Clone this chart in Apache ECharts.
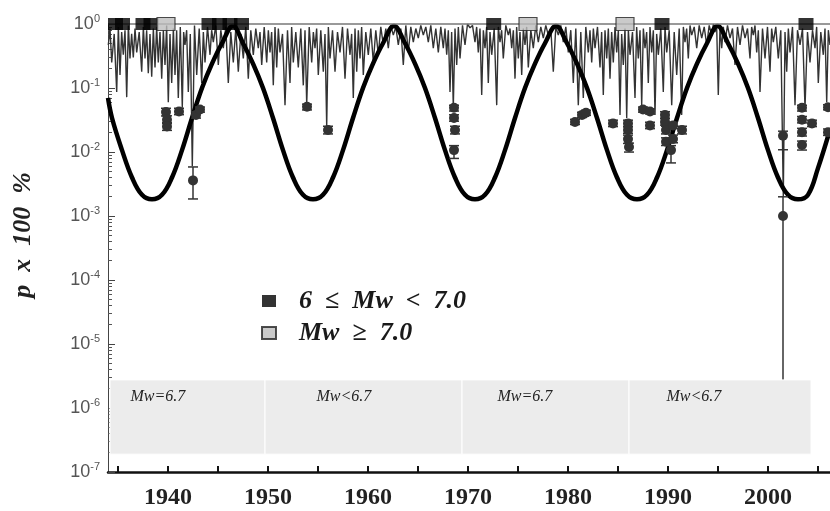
<!DOCTYPE html>
<html>
<head>
<meta charset="utf-8">
<script src="https://cdn.jsdelivr.net/npm/echarts@6/dist/echarts.min.js"></script>
<style>
  html, body { margin: 0; padding: 0; background: #fff; }
  #chart { width: 830px; height: 511px; }
</style>
</head>
<body>
<div id="chart"></div>
<script>
// thin noisy probability line: dip years / dip values, and the tops between dips
const noiseYears = [
  1934.03, 1934.37, 1934.87, 1935.2, 1935.53, 1935.87, 1936.2, 1936.53, 1936.87, 1937.37,
  1937.7, 1938.03, 1938.37, 1938.7, 1939.03, 1939.37, 1939.7, 1940.03, 1940.37, 1940.7,
  1941.03, 1941.43, 1941.7, 1942.03, 1942.43, 1942.87, 1943.37, 1943.7, 1944.2, 1944.53,
  1945.03, 1945.53, 1946.03, 1946.53, 1947.03, 1947.53, 1948.03, 1948.53, 1949.03, 1949.37,
  1949.87, 1950.2, 1950.53, 1950.87, 1951.2, 1951.7, 1952.2, 1952.53, 1953.03, 1953.53,
  1953.87, 1954.37, 1954.7, 1955.03, 1955.53, 1955.87, 1956.2, 1956.7, 1957.2, 1957.7,
  1958.2, 1958.53, 1958.87, 1959.2, 1959.53, 1960.03, 1960.53, 1961.03, 1961.53, 1962.03,
  1962.53, 1963.03, 1963.53, 1964.03, 1964.53, 1965.03, 1965.53, 1966.03, 1966.53, 1967.03,
  1967.53, 1967.87, 1968.2, 1968.53, 1968.87, 1969.2, 1969.7, 1970.2, 1970.7, 1971.03,
  1971.37, 1971.7, 1972.03, 1972.37, 1972.87, 1973.2, 1973.53, 1974.03, 1974.37, 1974.7,
  1975.03, 1975.37, 1975.7, 1976.03, 1976.53, 1977.03, 1977.53, 1978.03, 1978.53, 1979.03,
  1979.53, 1980.03, 1980.53, 1981.03, 1981.53, 1982.03, 1982.37, 1982.7, 1983.2, 1983.53,
  1983.87, 1984.2, 1984.53, 1984.87, 1985.2, 1985.53, 1985.87, 1986.2, 1986.7, 1987.03,
  1987.37, 1987.7, 1988.03, 1988.37, 1988.7, 1989.03, 1989.53, 1989.87, 1990.37, 1990.87,
  1991.37, 1991.7, 1992.03, 1992.37, 1992.87, 1993.37, 1993.87, 1994.37, 1994.7, 1995.03,
  1995.37, 1995.7, 1996.2, 1996.7, 1997.2, 1997.7, 1998.2, 1998.53, 1998.87, 1999.2,
  1999.7, 2000.2, 2000.53, 2001.03, 2001.53, 2001.87, 2002.2, 2002.7, 2003.2, 2003.7,
  2004.2, 2004.7, 2005.03, 2005.53, 2005.87, 2006.2
];
const noiseDips = [
  .47, .25, .087, .16, .33, .072, .29, .30, .36, .18,
  .29, .17, .15, .21, .25, .14, .23, .06, .12, .16,
  .07, .049, .47, .087, .006, .16, .12, .25, .33, .52,
  .23, .42, .12, .25, .18, .29, .14, .33, .42, .23,
  .25, .36, .11, .21, .36, .054, .12, .25, .21, .11,
  .056, .25, .42, .16, .18, .025, .29, .18, .36, .14,
  .33, .07, .18, .29, .16, .33, .25, .33, .47, .42,
  .67, .47, .23, .36, .52, .60, .67, .52, .42, .36,
  .42, .33, .087, .05, .23, .29, .47, .87, .52, .36,
  .078, .42, .12, .33, .054, .52, .29, .67, .42, .14,
  .29, .16, .47, .21, .42, .52, .60, .67, .18, .67,
  .52, .36, .12, .054, .07, .36, .25, .42, .21, .078,
  .29, .14, .25, .36, .038, .23, .034, .33, .07, .29,
  .054, .42, .12, .36, .038, .33, .087, .36, .054, .16,
  .038, .52, .29, .67, .42, .60, .47, .67, .75, .078,
  .42, .52, .60, .23, .47, .60, .29, .67, .36, .087,
  .29, .18, .52, .29, .002, .18, .36, .054, .47, .049,
  .25, .42, .12, .33, .06, .47
];
const noiseTops = [
  .85, .7, .9, .75, .8, .95, .7, .85, .75, .9,
  .8, .7, .85, .9, .75, .8, .95, .7, .85, .8,
  .9, .75, .8, .7, .95, .85, .75, .9, .8, .95,
  .8, .9, .75, .85, .7, .9, .8, .85, .75, .9,
  .8, .75, .9, .85, .7, .8, .9, .75, .85, .8,
  .9, .75, .85, .8, .7, .9, .8, .75, .9, .85,
  .7, .85, .8, .9, .75, .85, .8, .9, .85, .95,
  .9, .85, .95, .9, .85, .95, .9, .95, .85, .9,
  .85, .8, .75, .85, .9, .95, 1.0, .95, .9, .85,
  .8, .9, .75, .85, .9, .8, .95, .85, .8, .9,
  .75, .85, .9, .8, .95, .9, .95, .85, .9, .95,
  .9, .8, .85, .75, .9, .8, .85, .9, .75, .8,
  .85, .75, .9, .8, .7, .85, .8, .75, .9, .8,
  .85, .75, .9, .8, .7, .85, .9, .8, .75, .85,
  .9, .85, .95, .9, .95, .9, .95, 1.0, .95, .9,
  .9, .95, .85, .9, .95, .85, .9, .95, .8, .85,
  .9, .85, .9, .8, .75, .85, .9, .8, .85, .75,
  .8, .9, .75, .85, .8
];

// thick periodic curve
const curveYears = [
  1934.0, 1934.4, 1935.4, 1936.4, 1937.4, 1938.4, 1939.4, 1940.4, 1941.4, 1942.4,
  1943.4, 1944.4, 1945.4, 1946.5, 1947.5, 1948.5, 1949.5, 1950.5, 1951.5, 1952.5,
  1953.5, 1954.5, 1955.5, 1956.5, 1957.5, 1958.5, 1959.5, 1960.5, 1961.5, 1962.6,
  1963.7, 1964.7, 1965.7, 1966.7, 1967.7, 1968.7, 1969.7, 1970.7, 1971.7, 1972.7,
  1973.7, 1974.7, 1975.7, 1976.7, 1977.7, 1978.8, 1979.9, 1980.9, 1981.9, 1982.9,
  1983.9, 1984.9, 1985.9, 1986.9, 1987.9, 1988.9, 1989.9, 1990.9, 1991.9, 1992.9,
  1993.9, 1994.95, 1996.0, 1997.0, 1998.0, 1999.0, 2000.0, 2001.0, 2002.0, 2003.0,
  2004.0, 2005.0, 2006.2
];
const curveP = [
  .07, .034, .0107, .0040, .00214, .00182, .00214, .0040, .0107, .034,
  .1, .24, .50, .93, .50, .24, .1, .034, .0107, .0040,
  .00214, .00182, .00214, .0040, .0107, .034, .1, .24, .50, .93,
  .50, .24, .1, .034, .0107, .0040, .00214, .00182, .00214, .0040,
  .0107, .034, .1, .24, .50, .93, .50, .24, .1, .034,
  .0107, .0040, .00214, .00182, .00214, .0040, .0107, .034, .1, .24,
  .50, .93, .50, .24, .1, .034, .0107, .0040, .00214, .00182,
  .00214, .0056, .0224
];

// points with error bars (errors in decades, up / down)
const pointYears = [
  1939.8, 1939.9, 1939.9, 1941.1, 1942.5, 1942.8, 1943.2, 1953.9, 1956.0, 1968.6,
  1968.6, 1968.7, 1968.6, 1980.7, 1981.4, 1981.8, 1984.5, 1986.0, 1986.0, 1986.0,
  1986.1, 1987.5, 1988.2, 1988.2, 1989.7, 1989.7, 1989.8, 1989.8, 1990.3, 1990.5,
  1990.5, 1991.4, 2001.5, 2001.5, 2003.4, 2003.4, 2003.4, 2003.4, 2004.4, 2006.0,
  2006.0
];
const pointP = [
  .042, .032, .025, .043, .0036, .038, .046, .051, .022, .049,
  .034, .022, .0107, .0295, .038, .041, .028, .028, .022, .016,
  .012, .046, .043, .026, .038, .0295, .022, .0145, .0107, .026,
  .016, .022, .018, .001, .049, .032, .0204, .0129, .028, .050,
  .0204
];
const pointErrUp = [
  .06, .06, .06, .05, .21, .05, .04, .04, .06, .04,
  .05, .06, .07, .04, .04, .04, .05, .05, .05, .06,
  .06, .04, .04, .05, .05, .05, .06, .06, .07, .05,
  .06, .06, .07, .30, .04, .05, .06, .06, .05, .04,
  .05
];
const pointErrDown = [
  .06, .06, .06, .05, .29, .05, .04, .05, .06, .05,
  .05, .06, .13, .04, .04, .04, .05, .05, .05, .07,
  .08, .04, .04, .05, .05, .05, .06, .06, .20, .05,
  .06, .06, .22, 3.3, .05, .05, .06, .08, .05, .04,
  .05
];

// earthquake squares along p = 1
const moderateYears = [1934.75, 1935.45, 1937.5, 1938.3, 1944.1, 1945.15, 1946.2, 1947.35, 1972.57, 1989.4, 2003.8];
const strongYears = [1939.8, 1976.0, 1985.7];
const moderateName = '6\u2002\u2264\u2002Mw\u2002<\u20027.0';
const strongName = 'Mw\u2002\u2265\u20027.0';

// grey band periods
const bandEdges = [1934.2, 1949.7, 1969.4, 1986.1, 2004.3];
const bandLabels = ['Mw=6.7', 'Mw<6.7', 'Mw=6.7', 'Mw<6.7'];
const bandLow = 1.9e-7;
const bandHigh = 2.75e-6;

const xTicks = [1935, 1940, 1945, 1950, 1955, 1960, 1965, 1970, 1975, 1980, 1985, 1990, 1995, 2000, 2005];
const xLabels = [1940, 1950, 1960, 1970, 1980, 1990, 2000];

const chart = echarts.init(document.getElementById('chart'));

const noiseData = [];
noiseYears.forEach((y, i) => {
  noiseData.push([y, noiseDips[i]]);
  if (i < noiseTops.length) {
    noiseData.push([(y + noiseYears[i + 1]) / 2, noiseTops[i]]);
  }
});

const pointData = pointYears.map((y, i) => [
  y,
  pointP[i],
  pointP[i] * Math.pow(10, pointErrUp[i]),
  pointP[i] / Math.pow(10, pointErrDown[i])
]);

const labelShift = [21, 52, 36, 38];
const bandData = bandLabels.map((txt, i) => [
  {
    xAxis: bandEdges[i], yAxis: bandLow, name: txt,
    label: { offset: [labelShift[i], 9] }
  },
  { xAxis: bandEdges[i + 1], yAxis: bandHigh }
]);

const serif = 'Liberation Serif, Times New Roman, serif';

const option = {
  animation: false,
  backgroundColor: '#fff',
  grid: { left: 108, right: 0, top: 24, bottom: 39 },
  legend: {
    left: 256,
    top: 283,
    orient: 'vertical',
    itemWidth: 14,
    itemHeight: 12,
    itemGap: 6,
    selectedMode: false,
    icon: 'rect',
    data: [moderateName, strongName],
    textStyle: {
      fontFamily: serif,
      fontStyle: 'italic',
      fontWeight: 'bold',
      fontSize: 26,
      lineHeight: 22,
      color: '#1a1a1a',
      padding: [0, 0, 0, 18]
    }
  },
  xAxis: {
    type: 'value',
    min: 1934,
    max: 2006.2,
    splitLine: { show: false },
    axisLine: { lineStyle: { color: '#111', width: 2.5 } },
    axisTick: {
      inside: true,
      length: 6,
      customValues: xTicks,
      lineStyle: { color: '#111', width: 2 }
    },
    axisLabel: {
      customValues: xLabels,
      formatter: v => String(v),
      margin: 14,
      fontFamily: serif,
      fontWeight: 'bold',
      fontSize: 24,
      color: '#222'
    }
  },
  yAxis: {
    type: 'log',
    logBase: 10,
    min: 1e-7,
    max: 1,
    name: 'p\u2002x\u2002100\u2002%',
    nameLocation: 'middle',
    nameRotate: 90,
    nameGap: 72,
    nameTextStyle: {
      fontFamily: serif,
      fontStyle: 'italic',
      fontWeight: 'bold',
      fontSize: 26,
      color: '#222',
      padding: [0, 0, 0, 26]
    },
    splitLine: { show: false },
    axisLine: { show: true, lineStyle: { color: '#444', width: 1 } },
    axisTick: { inside: true, length: 7, lineStyle: { color: '#444' } },
    minorTick: { show: true, splitNumber: 9, length: 4, lineStyle: { color: '#555' } },
    axisLabel: {
      margin: 8,
      formatter: v => '{b|10}{s|' + Math.round(Math.log10(v)) + '}',
      rich: {
        b: { fontFamily: 'Liberation Sans, Arial, sans-serif', fontSize: 18, color: '#555' },
        s: { fontFamily: 'Liberation Sans, Arial, sans-serif', fontSize: 11, color: '#555', padding: [0, 0, 10, 0] }
      }
    }
  },
  series: [
    {
      name: 'noise',
      type: 'line',
      data: noiseData,
      showSymbol: false,
      lineStyle: { color: '#333', width: 1.4 },
      z: 2,
      markLine: {
        silent: true,
        symbol: 'none',
        label: { show: false },
        lineStyle: { color: '#777', width: 1.5, type: 'solid' },
        data: [{ yAxis: 1 }]
      }
    },
    {
      name: 'curve',
      type: 'line',
      data: curveYears.map((y, i) => [y, curveP[i]]),
      smooth: 0.4,
      showSymbol: false,
      lineStyle: { color: '#000', width: 4.5 },
      z: 3
    },
    {
      name: 'points',
      type: 'custom',
      data: pointData,
      encode: { x: 0, y: 1 },
      z: 4,
      clip: true,
      renderItem: function (params, api) {
        const x = api.value(0);
        const c = api.coord([x, api.value(1)]);
        const hi = api.coord([x, api.value(2)]);
        const lo = api.coord([x, api.value(3)]);
        const w = 5;
        const style = { stroke: '#333', lineWidth: 1.5 };
        return {
          type: 'group',
          children: [
            { type: 'line', shape: { x1: c[0], y1: hi[1], x2: c[0], y2: lo[1] }, style: style },
            { type: 'line', shape: { x1: c[0] - w, y1: hi[1], x2: c[0] + w, y2: hi[1] }, style: style },
            { type: 'line', shape: { x1: c[0] - w, y1: lo[1], x2: c[0] + w, y2: lo[1] }, style: style },
            { type: 'circle', shape: { cx: c[0], cy: c[1], r: 5 }, style: { fill: '#333' } }
          ]
        };
      }
    },
    {
      name: moderateName,
      type: 'scatter',
      data: moderateYears.map(y => [y, 1]),
      symbol: 'rect',
      symbolSize: [15, 12],
      itemStyle: { color: '#000' },
      z: 6
    },
    {
      name: strongName,
      type: 'scatter',
      data: strongYears.map(y => [y, 1]),
      symbol: 'rect',
      symbolSize: [18, 13],
      itemStyle: { color: '#bdbdbd', borderColor: '#222', borderWidth: 1 },
      z: 7
    },
    {
      name: 'bands',
      type: 'line',
      data: [],
      z: 10,
      markArea: {
        silent: true,
        z: 10,
        itemStyle: { color: '#ececec', borderColor: '#fff', borderWidth: 1 },
        label: {
          show: true,
          position: 'insideTopLeft',
          distance: 0,
          fontFamily: serif,
          fontStyle: 'italic',
          fontSize: 16,
          color: '#222'
        },
        data: bandData
      }
    }
  ]
};

chart.setOption(option);
</script>
</body>
</html>
